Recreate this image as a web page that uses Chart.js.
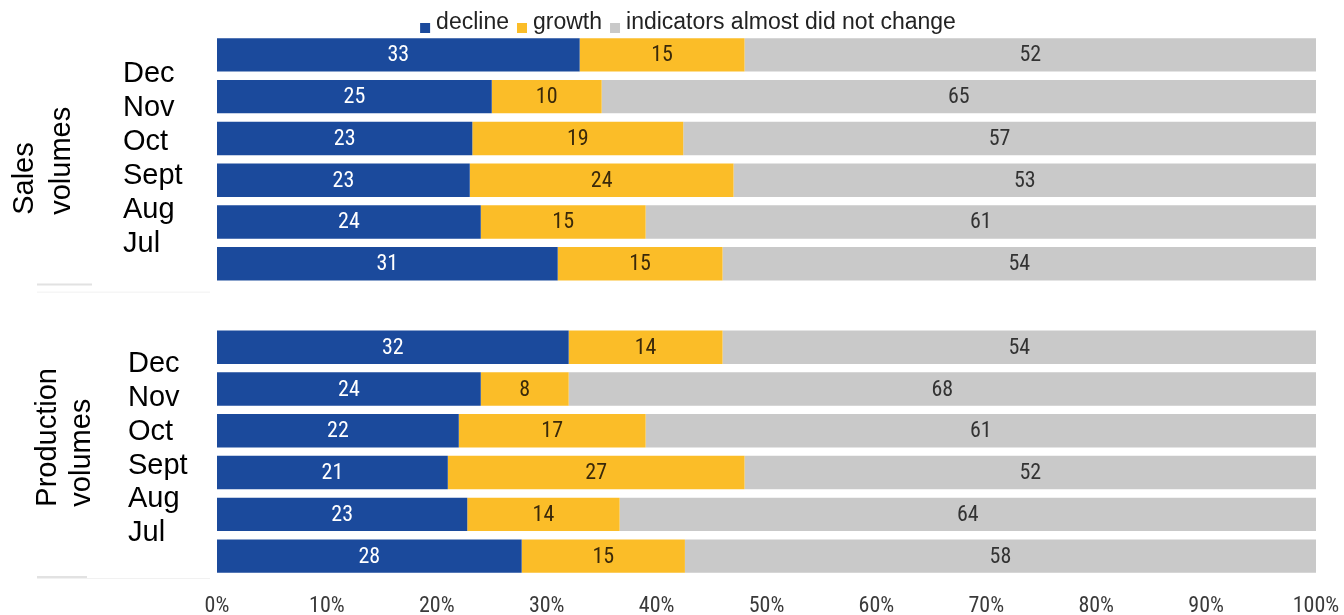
<!DOCTYPE html>
<html>
<head>
<meta charset="utf-8">
<script src="https://cdn.jsdelivr.net/npm/chart.js@4.4.1/dist/chart.umd.min.js"></script>
<style>
  html, body { margin: 0; padding: 0; background: #ffffff; overflow: hidden; }
  #wrap { width: 1344px; height: 615px; position: relative; }
</style>
</head>
<body>
<div id="wrap"><canvas id="chart" width="1344" height="615"></canvas></div>
<script>
// Survey answers, % of respondents, most recent month first
const months = ['Dec', 'Nov', 'Oct', 'Sept', 'Aug', 'Jul'];
const groupTitles = [['Sales', 'volumes'], ['Production', 'volumes']];

const salesDecline  = [33, 25, 23, 23, 24, 31];
const salesGrowth   = [15, 10, 19, 24, 15, 15];
const salesNoChange = [52, 65, 57, 53, 61, 54];

const prodDecline   = [32, 24, 22, 21, 23, 28];
const prodGrowth    = [14, 8, 17, 27, 14, 15];
const prodNoChange  = [54, 68, 61, 52, 64, 58];

const seriesNames  = ['decline', 'growth', 'indicators almost did not change'];
const seriesColors = ['#1b4a9c', '#fbbd28', '#c9c9c9'];
const valueColors  = ['#ffffff', '#3a290a', '#333333'];

const xTickStep = 10;
const xMax = 100;

// 13 rows: sales block, an empty spacer row, production block
const rowLabels = [...months, '', ...months];
const rawSeries = [
  [...salesDecline, null, ...prodDecline],
  [...salesGrowth, null, ...prodGrowth],
  [...salesNoChange, null, ...prodNoChange]
];
const rowTotals = rowLabels.map((_, r) =>
  rawSeries.reduce((s, ser) => s + (ser[r] == null ? 0 : ser[r]), 0));
// each bar fills 100%: shares of the row total
const shareSeries = rawSeries.map(ser =>
  ser.map((v, r) => v == null ? null : v / rowTotals[r] * 100));

const ARIAL = '"Liberation Sans", Arial, sans-serif';
const NARROW = '"Roboto Condensed", "Liberation Sans Narrow", "Arial Narrow", "DejaVu Sans Condensed", sans-serif';

// numbers written in the middle of each segment
const valueLabels = {
  id: 'valueLabels',
  afterDatasetsDraw(chart) {
    const ctx = chart.ctx;
    ctx.save();
    ctx.font = '22px ' + NARROW;
    ctx.textAlign = 'center';
    ctx.textBaseline = 'middle';
    chart.data.datasets.forEach((ds, i) => {
      const meta = chart.getDatasetMeta(i);
      meta.data.forEach((bar, j) => {
        const v = rawSeries[i][j];
        if (v == null) return;
        const p = bar.getProps(['x', 'y', 'base'], true);
        ctx.fillStyle = valueColors[i];
        ctx.fillText(String(v), (p.x + p.base) / 2, p.y + 1);
      });
    });
    ctx.restore();
  }
};

// month list and rotated block titles on the left, block separators
const sideLabels = {
  id: 'sideLabels',
  afterDraw(chart) {
    const ctx = chart.ctx;
    const y = chart.scales.y;
    const area = chart.chartArea;
    const pitch = (area.bottom - area.top) / rowLabels.length;
    const blocks = [
      { first: 0, monthX: 123, titleX: [25, 62], lineGap: 33.9, shift: -0.5, titleShift: 56 },
      { first: 7, monthX: 128, titleX: [48, 82], lineGap: 33.7, shift: -3, titleShift: 58 }
    ];
    ctx.save();
    blocks.forEach((b, bi) => {
      const top = y.getPixelForValue(b.first);
      const bottom = y.getPixelForValue(b.first + months.length - 1);
      const mid = (top + bottom) / 2 + b.shift;
      ctx.fillStyle = '#000000';
      ctx.font = '29px ' + ARIAL;
      ctx.textAlign = 'left';
      ctx.textBaseline = 'middle';
      months.forEach((m, k) => {
        ctx.fillText(m, b.monthX, mid + (k - (months.length - 1) / 2) * b.lineGap);
      });
      // rotated title, text running bottom to top
      ctx.font = '29px ' + ARIAL;
      groupTitles[bi].forEach((t, k) => {
        ctx.save();
        ctx.translate(b.titleX[k], mid + b.titleShift);
        ctx.rotate(-Math.PI / 2);
        ctx.textAlign = 'left';
        ctx.textBaseline = 'middle';
        ctx.fillText(t, 0, 0);
        ctx.restore();
      });
    });
    // separators under each block
    const sep1 = y.getPixelForValue(6) - pitch / 2;
    const sep2 = area.bottom;
    ctx.strokeStyle = '#f1f1f1';
    ctx.lineWidth = 1;
    [[sep1 + 7, 210], [sep2 + 1, 210]].forEach(([yy, x2]) => {
      ctx.beginPath(); ctx.moveTo(37, yy + 0.5); ctx.lineTo(x2, yy + 0.5); ctx.stroke();
    });
    ctx.strokeStyle = '#e2e2e2';
    ctx.lineWidth = 2;
    [[sep1, 92], [sep2, 87]].forEach(([yy, x2]) => {
      ctx.beginPath(); ctx.moveTo(37, yy); ctx.lineTo(x2, yy); ctx.stroke();
    });
    ctx.restore();
  }
};

// legend row above the bars
const legendRow = {
  id: 'legendRow',
  afterDraw(chart) {
    const ctx = chart.ctx;
    const centerX = 688, textY = 23, box = 10, boxGap = 6, itemGap = 8;
    ctx.save();
    ctx.font = '23px ' + ARIAL;
    ctx.textBaseline = 'middle';
    ctx.textAlign = 'left';
    const widths = seriesNames.map(n => ctx.measureText(n).width);
    const total = widths.reduce((s, w) => s + w + box + boxGap, 0) + itemGap * (seriesNames.length - 1);
    let x = centerX - total / 2;
    seriesNames.forEach((n, i) => {
      ctx.fillStyle = seriesColors[i];
      ctx.fillRect(x, textY, box, box);
      x += box + boxGap;
      ctx.fillStyle = '#222222';
      ctx.fillText(n, x, textY);
      x += widths[i] + itemGap;
    });
    ctx.restore();
  }
};

new Chart(document.getElementById('chart'), {
  type: 'bar',
  data: {
    labels: rowLabels,
    datasets: seriesNames.map((name, i) => ({
      label: name,
      data: shareSeries[i],
      backgroundColor: seriesColors[i],
      borderWidth: 0,
      barPercentage: 0.8,
      categoryPercentage: 1.0
    }))
  },
  options: {
    indexAxis: 'y',
    responsive: false,
    animation: false,
    devicePixelRatio: 1,
    layout: { padding: { top: 34, right: 28, left: 0, bottom: 0 } },
    plugins: {
      legend: { display: false },
      tooltip: { enabled: false }
    },
    scales: {
      x: {
        stacked: true,
        min: 0,
        max: xMax,
        position: 'bottom',
        grid: { display: false },
        border: { display: false },
        ticks: {
          stepSize: xTickStep,
          autoSkip: false,
          maxRotation: 0,
          padding: 8,
          color: '#3a3a3a',
          font: { family: NARROW, size: 22 },
          callback: v => v + '%'
        },
        afterFit: s => {
          s.height = 38;
          s.paddingLeft = 0;
          s.paddingRight = 0;
        }
      },
      y: {
        stacked: true,
        grid: { display: false },
        border: { display: false },
        ticks: { display: false },
        afterFit: s => { s.width = 217; }
      }
    }
  },
  plugins: [valueLabels, sideLabels, legendRow]
});
</script>
</body>
</html>
